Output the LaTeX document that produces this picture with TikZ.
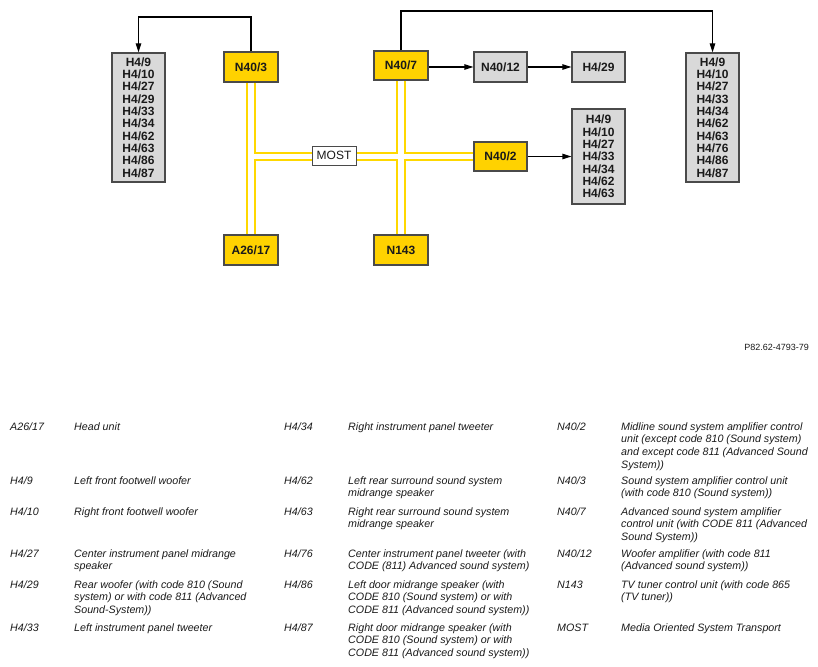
\documentclass[tikz,border=0pt]{standalone}
\usepackage{fontspec}
\setmainfont{Liberation Sans}
\usetikzlibrary{arrows.meta}
\definecolor{boxyellow}{HTML}{FFD200}
\definecolor{busyellow}{HTML}{FFD800}
\definecolor{boxgray}{HTML}{D9D9D9}
\definecolor{edgegray}{HTML}{4A4A4A}
\definecolor{txt}{HTML}{1A1A1A}
\begin{document}
\begin{tikzpicture}[x=1pt,y=-1pt,
  ybox/.style={draw=edgegray, line width=1.2pt, fill=boxyellow, text=txt,
    minimum width=54pt, minimum height=30pt, inner sep=0pt,
    font=\fontsize{12}{12.3}\selectfont\bfseries},
  gbox/.style={ybox, fill=boxgray},
  listbox/.style={gbox, align=center},
  mostbox/.style={draw=edgegray, line width=1pt, fill=white, text=txt,
    minimum width=44pt, minimum height=19pt, inner sep=0pt,
    font=\fontsize{12}{12}\selectfont},
  arr/.style={draw=black, line width=1.2pt, -{Triangle[length=9pt,width=5.5pt]}},
  busout/.style={draw=busyellow, line width=9.5pt},
  busin/.style={draw=white, line width=5.5pt},
  code/.style={anchor=base west, inner sep=0pt, text=txt,
    font=\fontsize{10.7}{12.8}\selectfont\itshape},
  desc/.style={code},
  refno/.style={anchor=base east, inner sep=0pt, text=txt,
    font=\fontsize{9}{10}\selectfont}
]
\useasboundingbox (0,0) rectangle (818,666);

% ---- boxes
\node[listbox, minimum width=53pt, minimum height=129pt] (LL) at (138.5,117.5)
  {H4/9\\H4/10\\H4/27\\H4/29\\H4/33\\H4/34\\H4/62\\H4/63\\H4/86\\H4/87};
\node[ybox] (N403) at (251,67) {N40/3};
\node[ybox] (A2617) at (251,250) {A26/17};
\node[ybox, minimum height=29pt] (N407) at (401,65.5) {N40/7};
\node[ybox] (N143) at (401,250) {N143};
\node[gbox, minimum width=53pt] (N4012) at (500.5,67) {N40/12};
\node[gbox, minimum width=53pt] (H429) at (598.5,67) {H4/29};
\node[ybox, minimum width=53pt, minimum height=29pt] (N402) at (500.5,156.5) {N40/2};
\node[listbox, minimum width=53pt, minimum height=95pt] (ML) at (598.5,156.5)
  {H4/9\\H4/10\\H4/27\\H4/33\\H4/34\\H4/62\\H4/63};
\node[listbox, minimum width=53pt, minimum height=129pt] (RL) at (712.5,117.5)
  {H4/9\\H4/10\\H4/27\\H4/33\\H4/34\\H4/62\\H4/63\\H4/76\\H4/86\\H4/87};

% ---- MOST bus
\coordinate (J) at (N403.south |- N402.west);
\draw[busout] (N403.south) -- (A2617.north);
\draw[busout] (N407.south) -- (N143.north);
\draw[busout] (J) -- (N402.west);
\draw[busin] (N403.south) -- (A2617.north);
\draw[busin] (N407.south) -- (N143.north);
\draw[busin] (J) -- (N402.west);
\node[mostbox] (MOST) at (334,155.5) {MOST};

% ---- arrows
\coordinate (t1) at (N403.north |- 0,17);
\coordinate (t2) at (N407.north |- 0,11);
\draw[arr] (N403.north) -- (t1) -| (LL.north);
\draw[arr] (N407.north) -- (t2) -| (RL.north);
\draw[arr] (N4012.west -| N407.east) -- (N4012.west);
\draw[arr] (N4012.east) -- (H429.west);
\draw[arr] (N402.east) -- (N402.east -| ML.west);

% ---- reference number
\node[refno] (ref) at (809,350) {P82.62-4793-79};

% ---- legend, column 1
\node[code] (c1) at (10,430) {A26/17};
\node[desc] (d1) at (74,430) {\parbox[t]{210pt}{\raggedright Head unit}};
\node[code] (c2) at (10,484) {H4/9};
\node[desc] (d2) at (74,484) {\parbox[t]{210pt}{\raggedright Left front footwell woofer}};
\node[code] (c3) at (10,515) {H4/10};
\node[desc] (d3) at (74,515) {\parbox[t]{210pt}{\raggedright Right front footwell woofer}};
\node[code] (c4) at (10,557) {H4/27};
\node[desc] (d4) at (74,557) {\parbox[t]{210pt}{\raggedright Center instrument panel midrange\\speaker}};
\node[code] (c5) at (10,588) {H4/29};
\node[desc] (d5) at (74,588) {\parbox[t]{210pt}{\raggedright Rear woofer (with code 810 (Sound\\system) or with code 811 (Advanced\\Sound-System))}};
\node[code] (c6) at (10,631) {H4/33};
\node[desc] (d6) at (74,631) {\parbox[t]{210pt}{\raggedright Left instrument panel tweeter}};

% ---- legend, column 2
\node[code] (c7) at (284,430) {H4/34};
\node[desc] (d7) at (348,430) {\parbox[t]{210pt}{\raggedright Right instrument panel tweeter}};
\node[code] (c8) at (284,484) {H4/62};
\node[desc] (d8) at (348,484) {\parbox[t]{210pt}{\raggedright Left rear surround sound system\\midrange speaker}};
\node[code] (c9) at (284,515) {H4/63};
\node[desc] (d9) at (348,515) {\parbox[t]{210pt}{\raggedright Right rear surround sound system\\midrange speaker}};
\node[code] (c10) at (284,557) {H4/76};
\node[desc] (d10) at (348,557) {\parbox[t]{210pt}{\raggedright Center instrument panel tweeter (with\\CODE (811) Advanced sound system)}};
\node[code] (c11) at (284,588) {H4/86};
\node[desc] (d11) at (348,588) {\parbox[t]{210pt}{\raggedright Left door midrange speaker (with\\CODE 810 (Sound system) or with\\CODE 811 (Advanced sound system))}};
\node[code] (c12) at (284,631) {H4/87};
\node[desc] (d12) at (348,631) {\parbox[t]{210pt}{\raggedright Right door midrange speaker (with\\CODE 810 (Sound system) or with\\CODE 811 (Advanced sound system))}};

% ---- legend, column 3
\node[code] (c13) at (557,430) {N40/2};
\node[desc] (d13) at (621,430) {\parbox[t]{200pt}{\raggedright Midline sound system amplifier control\\unit (except code 810 (Sound system)\\and except code 811 (Advanced Sound\\System))}};
\node[code] (c14) at (557,484) {N40/3};
\node[desc] (d14) at (621,484) {\parbox[t]{200pt}{\raggedright Sound system amplifier control unit\\(with code 810 (Sound system))}};
\node[code] (c15) at (557,515) {N40/7};
\node[desc] (d15) at (621,515) {\parbox[t]{200pt}{\raggedright Advanced sound system amplifier\\control unit (with CODE 811 (Advanced\\Sound System))}};
\node[code] (c16) at (557,557) {N40/12};
\node[desc] (d16) at (621,557) {\parbox[t]{200pt}{\raggedright Woofer amplifier (with code 811\\(Advanced sound system))}};
\node[code] (c17) at (557,588) {N143};
\node[desc] (d17) at (621,588) {\parbox[t]{200pt}{\raggedright TV tuner control unit (with code 865\\(TV tuner))}};
\node[code] (c18) at (557,631) {MOST};
\node[desc] (d18) at (621,631) {\parbox[t]{200pt}{\raggedright Media Oriented System Transport}};
\end{tikzpicture}
\end{document}
